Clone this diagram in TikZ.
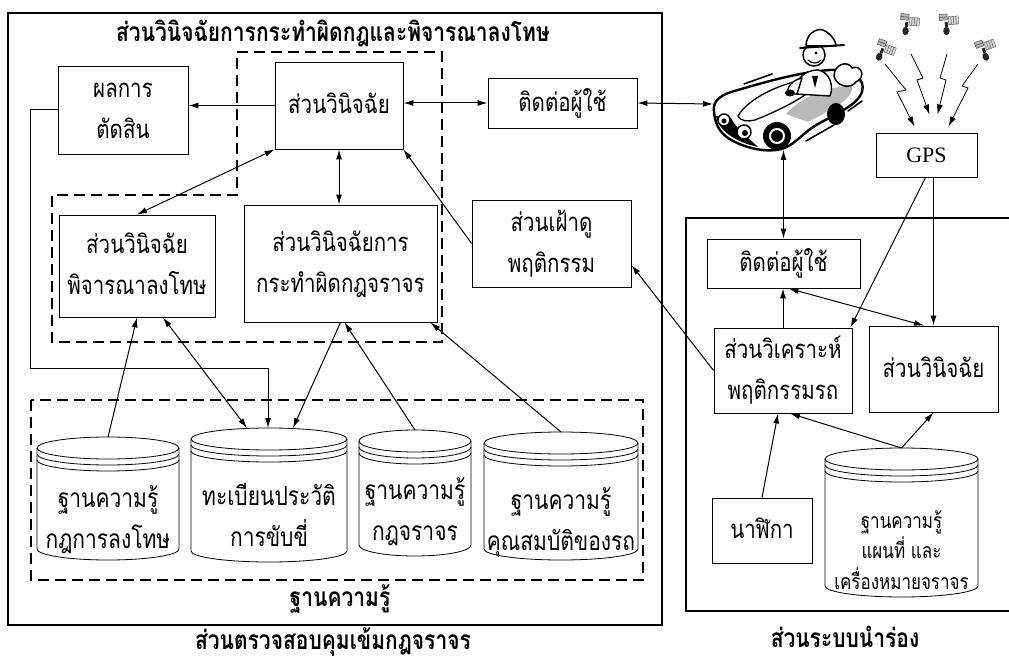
\documentclass[tikz,border=0pt]{standalone}
\usepackage{fontspec}
\usepackage{graphicx}
\newfontfamily\thaifont[Script=Thai]{Loma}
\newfontfamily\gpsfont{Liberation Serif}
\usetikzlibrary{arrows.meta,calc}

\newcommand\thaitext{\thaifont\fontsize{20.5}{33}\selectfont}
\newcommand\thaibold{\thaifont\bfseries\fontsize{21}{26}\selectfont}
\newcommand\thaicyl{\thaifont\fontsize{21}{33}\selectfont}
\newcommand\thaicylsmall{\thaifont\fontsize{17}{23.5}\selectfont}
% tall setting of a (possibly multi-line) Thai text
\newcommand\tl[1]{\scalebox{1}[1.25]{\begin{tabular}{@{}c@{}}#1\end{tabular}}}

% database cylinder: name, left x, right x, top y, bottom y, text, text centre y, font
\newcommand\kbcyl[8]{%
  \pgfmathsetmacro\cylcx{(#2+#3)/2}%
  \pgfmathsetmacro\cylrx{(#3-#2)/2}%
  \pgfmathsetmacro\cylct{#4+11}%
  \pgfmathsetmacro\cylcb{#5-11}%
  \pgfmathsetmacro\cylw{#3-#2}%
  \pgfmathsetmacro\cylh{#5-#4}%
  \draw[cyl] (\cylcx,\cylct) ellipse [x radius=\cylrx, y radius=11];
  \draw[cyl] (#2,\cylct+6) arc [start angle=180, end angle=0, x radius=\cylrx, y radius=11];
  \draw[cyl] (#2,\cylct+12) arc [start angle=180, end angle=0, x radius=\cylrx, y radius=11];
  \draw[cyl] (#2,\cylct) -- (#2,\cylcb) arc [start angle=180, end angle=0, x radius=\cylrx, y radius=11] -- (#3,\cylct);
  \node[minimum width=\cylw pt, minimum height=\cylh pt, anchor=north, inner sep=0pt] (#1) at (\cylcx,#4) {};
  \node[font=#8, inner sep=0pt] (#1-t) at (\cylcx,#7) {\tl{#6}};
}

% small satellite glyph
\newcommand\satellite[3]{%
  \begin{scope}[shift={(#1,#2)}, rotate=#3]
    \draw[gray!70!black, line width=0.4pt, fill=gray!30] (3,-9) rectangle (13,-1);
    \draw[gray!60!black, line width=0.5pt] (5.5,-9) -- (5.5,-1) (8,-9) -- (8,-1) (10.5,-9) -- (10.5,-1);
    \draw[gray!60!black, line width=0.5pt, fill=gray!55] (-6,-12) rectangle (2,-6);
    \draw[gray!40!black, line width=0.5pt] (-6,-9) -- (2,-9);
    \fill[black!85] (-1,-4) rectangle (2,1);
    \fill[black!85] (0,5) ellipse [x radius=3.2, y radius=4.2];
  \end{scope}%
}

\begin{document}
\begin{tikzpicture}[x=1pt,y=-1pt,
  box/.style={draw, line width=0.9pt, inner sep=0pt, align=center, font=\thaitext},
  frame/.style={line width=1.2pt},
  grp/.style={line width=1.1pt, dash pattern=on 11pt off 6pt},
  arr/.style={line width=1pt, -{Latex[length=10pt,width=6pt]}},
  darr/.style={line width=1pt, {Latex[length=10pt,width=6pt]}-{Latex[length=10pt,width=6pt]}},
  bolt/.style={line width=0.8pt, -{Latex[length=10pt,width=6pt]}},
  cyl/.style={line width=0.8pt},
  lbl/.style={font=\thaibold, inner sep=0pt},
]
\useasboundingbox (0,0) rectangle (1009,660);

% ---------- panel frames ----------
\draw[frame] (8,13) rectangle (662,625);
\draw[frame] (1012,218) -- (686,218) -- (686,611) -- (1012,611);

% ---------- dashed groups ----------
\draw[grp] (237,52) -- (442,52) -- (442,342) -- (52,342) -- (52,195) -- (237,195) -- cycle;
\draw[grp] (31,400) rectangle (643,580);

% ---------- labels ----------
\node[lbl] (title) at (333,35) {\tl{ส่วนวินิจฉัยการกระทำผิดกฎและพิจารณาลงโทษ}};
\node[lbl] (kblabel) at (340,600) {\tl{ฐานความรู้}};
\node[lbl] (leftlabel) at (333,643) {\tl{ส่วนตรวจสอบคุมเข้มกฎจราจร}};
\node[lbl] (rightlabel) at (845,641) {\tl{ส่วนระบบนำร่อง}};

% ---------- boxes: left panel ----------
\node[box, minimum width=130pt, minimum height=88pt] (res) at (123,110) {\tl{ผลการ\\ตัดสิน}};
\node[box, minimum width=128pt, minimum height=87pt] (judge) at (339,105.5) {\tl{ส่วนวินิจฉัย}};
\node[box, minimum width=149pt, minimum height=50pt] (ui1) at (562.5,103) {\tl{ติดต่อผู้ใช้}};
\node[box, minimum width=156pt, minimum height=102pt] (pen) at (137,266) {\tl{ส่วนวินิจฉัย\\พิจารณาลงโทษ}};
\node[box, minimum width=193pt, minimum height=117pt] (viol) at (340.5,263.5) {\tl{ส่วนวินิจฉัยการ\\กระทำผิดกฎจราจร}};
\node[box, minimum width=159pt, minimum height=87pt] (watch) at (551.5,243.5) {\tl{ส่วนเฝ้าดู\\พฤติกรรม}};

% ---------- boxes: right panel ----------
\node[box, minimum width=101pt, minimum height=44pt, font=\gpsfont\fontsize{22}{24}\selectfont] (gps) at (926.5,155) {GPS};
\node[box, minimum width=153pt, minimum height=49pt] (ui2) at (783.5,263.5) {\tl{ติดต่อผู้ใช้}};
\node[box, minimum width=138pt, minimum height=85pt] (anal) at (783,370.5) {\tl{ส่วนวิเคราะห์\\พฤติกรรมรถ}};
\node[box, minimum width=129pt, minimum height=86pt] (judge2) at (933.5,369) {\tl{ส่วนวินิจฉัย}};
\node[box, minimum width=100pt, minimum height=65pt] (clock) at (762,530.5) {\tl{นาฬิกา}};

% ---------- knowledge bases ----------
\kbcyl{db1}{37}{179}{437}{560}{ฐานความรู้\\กฎการลงโทษ}{520}{\thaicyl}
\kbcyl{db2}{191}{347}{428}{562}{ทะเบียนประวัติ\\การขับขี่}{518}{\thaicyl}
\kbcyl{db3}{359}{471}{430}{556}{ฐานความรู้\\กฎจราจร}{512}{\thaicyl}
\kbcyl{db4}{484}{638}{432}{560}{ฐานความรู้\\คุณสมบัติของรถ}{522}{\thaicyl}
\kbcyl{db5}{825}{978}{448}{597}{ฐานความรู้\\แผนที่ และ\\เครื่องหมายจราจร}{553}{\thaicylsmall}

% ---------- car with driver ----------
\begin{scope}[line join=round, line cap=round]
  % body
  \draw[line width=2.4pt, fill=white] (714,112)
      .. controls (712,100) and (722,94) .. (738,90)
      .. controls (765,82) and (800,72) .. (830,70)
      .. controls (852,69) and (866,78) .. (862,92)
      .. controls (858,104) and (840,112) .. (818,124)
      .. controls (800,134) and (794,148) .. (776,150)
      .. controls (760,152) and (740,146) .. (728,138)
      .. controls (718,131) and (715,122) .. (714,112) -- cycle;
  % cockpit
  \fill[gray!55] (786,114) .. controls (800,98) and (828,86) .. (852,86)
      .. controls (854,98) and (835,108) .. (808,122) -- cycle;
  % hood
  \draw[line width=1.3pt, fill=white] (738,116) .. controls (748,98) and (785,80) .. (818,78)
      .. controls (822,88) and (790,106) .. (755,120) .. controls (748,122) and (740,121) .. (738,116) -- cycle;
  % dark lower front
  \fill[black] (716,116) .. controls (718,130) and (735,142) .. (758,147)
      .. controls (746,136) and (736,128) .. (731,118) -- cycle;
  % wheels
  \fill[black] (777,136) circle [radius=14];
  \draw[white, line width=2pt] (777,136) circle [radius=7];
  \fill[black] (836,114) ellipse [x radius=9, y radius=11];
  % headlights
  \draw[line width=1.5pt, fill=white] (724,120) circle [radius=6];
  \fill (724,121) circle [radius=2.5];
  \draw[line width=1.5pt, fill=white] (744,132) circle [radius=7];
  \fill (745,133) circle [radius=3];
  % speed strokes
  \draw[line width=1.6pt] (744,84) -- (772,74);
  \draw[line width=1.6pt] (806,141) -- (834,125);
  \draw[line width=1.6pt] (848,111) -- (862,101);
  % driver
  \draw[line width=1.4pt, fill=white] (796,94) .. controls (794,80) and (804,70) .. (818,70)
      .. controls (830,72) and (834,86) .. (830,96) -- cycle;
  \fill (812,76) -- (818,76) -- (815,88) -- cycle;
  \draw[line width=1.4pt, fill=white] (802,78) .. controls (792,80) and (786,88) .. (788,94) -- (797,94) -- cycle;
  \fill (790,93) ellipse [x radius=5, y radius=3.5];
  \draw[line width=1.5pt, fill=white] (814,55) circle [radius=11];
  \draw[line width=1.5pt, fill=white] (806,46) .. controls (806,34) and (816,28) .. (823,30)
      .. controls (832,34) and (836,42) .. (836,46) -- cycle;
  \draw[line width=2pt] (800,48) -- (844,45);
  \fill (816,53) circle [radius=1.6];
  \draw[line width=1.2pt] (808,60) .. controls (812,64) and (818,64) .. (821,60);
  % scarf
  \draw[line width=1.5pt, fill=white] (834,76) .. controls (834,64) and (848,60) .. (852,68)
      .. controls (862,64) and (866,78) .. (856,82) .. controls (850,90) and (836,86) .. (834,76) -- cycle;
\end{scope}
\coordinate (carL) at (713,104);
\coordinate (carB) at (783.5,150);

% ---------- satellites ----------
\satellite{881}{52}{-20}
\satellite{906}{26}{-5}
\satellite{946}{26}{5}
\satellite{984}{52}{20}
\coordinate (satA) at (885,64);
\coordinate (satB) at (911,54);
\coordinate (satC) at (947,54);
\coordinate (satD) at (978,64);

% ---------- satellite links ----------
\draw[bolt] (satA) -- (906,90) -- (897,92) -- ($(gps.north)+(-12,-6)$);
\draw[bolt] (satB) -- (923,78) -- (917,80) -- ($(gps.north)+(3,-18)$);
\draw[bolt] (satC) -- (940,78) -- (946,80) -- ($(gps.north)+(11,-18)$);
\draw[bolt] (satD) -- (962,86) -- (968,88) -- ($(gps.north)+(22,-6)$);

% ---------- connectors: left panel ----------
\draw[arr] (judge.west) -- (judge.west -| res.east);
\draw[darr] (ui1.west -| judge.east) -- (ui1.west);
\draw[darr] (ui1.east) -- (carL);
\draw[darr] (judge.south west) -- (pen.north);
\draw[darr] (judge.south) -- (judge.south |- viol.north);
\draw[arr] (watch.west) -- (judge.south east);
\draw[arr] (res.west) -| (30,368) -| ([xshift=-1pt]db2.north);
\draw[arr] (db1.north) -- (pen.south);
\draw[darr] ([xshift=26pt]pen.south) -- ([xshift=-22pt]db2.north);
\draw[arr] (viol.south) -- ([xshift=24pt]db2.north);
\draw[arr] (db3.north) -- ([xshift=4pt]viol.south);
\draw[arr] (db4.north) -- ([xshift=-7pt]viol.south east);

% ---------- connectors: right panel ----------
\draw[darr] (carB) -- (ui2.north);
\draw[arr] (anal.west) -- ([yshift=-21.5pt]watch.east);
\draw[arr] ([xshift=-1pt]gps.south) -- ([xshift=-2pt]anal.north east);
\draw[arr] (judge2.north |- gps.south) -- (judge2.north);
\draw[darr] ([xshift=5pt]ui2.south) -- ([xshift=-9.5pt]judge2.north);
\draw[arr] (anal.north) -- (anal.north |- ui2.south);
\draw[arr] (clock.north) -- ([xshift=-5pt]anal.south);
\draw[arr] (db5.north) -- ([xshift=7pt]anal.south);
\draw[arr] (db5.north) -- (judge2.south);

\end{tikzpicture}
\end{document}
